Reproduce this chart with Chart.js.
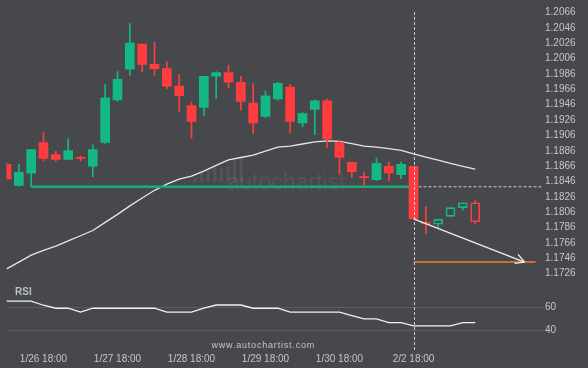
<!DOCTYPE html>
<html>
<head>
<meta charset="utf-8">
<script src="https://cdn.jsdelivr.net/npm/chart.js@4.4.1/dist/chart.umd.min.js"></script>
<style>
  html, body { margin: 0; padding: 0; background: #46484c; }
  #wrap { width: 588px; height: 368px; }
</style>
</head>
<body>
<div id="wrap"><canvas id="fxChart" width="588" height="368"></canvas></div>
<script>
// 4h candles, index 0..38; the ones after signalIndex are the projected (hollow) ones
const opens  = [1.18684, 1.18408, 1.18570, 1.18968, 1.18811, 1.18748, 1.18773, 1.18659, 1.18968, 1.19524,
                1.19922, 1.20249, 1.19986, 1.19931, 1.19702, 1.19448, 1.19426, 1.19833, 1.19880, 1.19753,
                1.19482, 1.19308, 1.19537, 1.19689, 1.19222, 1.19400, 1.19511, 1.18968, 1.18710, 1.18519,
                1.18484, 1.18659, 1.18548, 1.18659, 1.17930, 1.17904, 1.18006, 1.18121, 1.18184];
const highs  = [1.18700, 1.18684, 1.18875, 1.19095, 1.18853, 1.19015, 1.18790, 1.18939, 1.19724, 1.19893,
                1.20516, 1.20249, 1.20275, 1.20020, 1.19855, 1.19490, 1.19829, 1.19893, 1.19978, 1.19829,
                1.19736, 1.19638, 1.19753, 1.19727, 1.19358, 1.19524, 1.19533, 1.18990, 1.18710, 1.18586,
                1.18764, 1.18713, 1.18713, 1.18659, 1.18133, 1.17968, 1.18121, 1.18184, 1.18213];
const lows   = [1.18493, 1.18395, 1.18392, 1.18726, 1.18726, 1.18740, 1.18726, 1.18523, 1.18955, 1.19502,
                1.19846, 1.19884, 1.19846, 1.19668, 1.19375, 1.19024, 1.19320, 1.19540, 1.19680, 1.19393,
                1.19087, 1.19295, 1.19515, 1.19100, 1.19171, 1.19070, 1.18904, 1.18557, 1.18515, 1.18408,
                1.18472, 1.18474, 1.18497, 1.17975, 1.17781, 1.17853, 1.18006, 1.18090, 1.17912];
const closes = [1.18493, 1.18579, 1.18875, 1.18761, 1.18748, 1.18862, 1.18761, 1.18875, 1.19549, 1.19791,
                1.20262, 1.19986, 1.19931, 1.19702, 1.19579, 1.19244, 1.19829, 1.19880, 1.19753, 1.19502,
                1.19222, 1.19575, 1.19740, 1.19244, 1.19346, 1.19511, 1.19015, 1.18773, 1.18586, 1.18510,
                1.18697, 1.18573, 1.18684, 1.17975, 1.17904, 1.17968, 1.18121, 1.18184, 1.17937];

const movingAvg = [1.17323, 1.17411, 1.17502, 1.17565, 1.17620, 1.17688, 1.17754, 1.17822, 1.17928, 1.18033,
                   1.18143, 1.18246, 1.18346, 1.18427, 1.18491, 1.18531, 1.18595, 1.18671, 1.18741, 1.18773,
                   1.18805, 1.18856, 1.18909, 1.18922, 1.18949, 1.18977, 1.18990, 1.18983, 1.18954, 1.18922,
                   1.18907, 1.18888, 1.18866, 1.18820, 1.18778, 1.18738, 1.18696, 1.18659, 1.18621];

const rsiValues = [65.7, 65.7, 65.7, 62.1, 59.5, 59.5, 56.1, 59.5, 59.5, 59.5,
                   59.5, 59.5, 59.5, 56.1, 56.1, 56.1, 59.5, 62.3, 62.3, 62.3,
                   59.5, 59.5, 59.5, 56.1, 56.1, 56.1, 56.1, 56.1, 53.1, 50.2,
                   50.2, 47.0, 47.0, 44.2, 44.2, 44.2, 44.2, 47.0, 47.0];

const tickIndex  = [3, 9, 15, 21, 27, 33];
const tickLabels = ['1/26 18:00', '1/27 18:00', '1/28 18:00', '1/29 18:00', '1/30 18:00', '2/2 18:00'];
const priceTicks = [1.2066, 1.2046, 1.2026, 1.2006, 1.1986, 1.1966, 1.1946, 1.1926, 1.1906,
                    1.1886, 1.1866, 1.1846, 1.1826, 1.1806, 1.1786, 1.1766, 1.1746, 1.1726];
const rsiTicks = [60, 40];

const supportLevel = 1.18392;
const supportStart = 2;
const signalIndex = 33;
const targetLevel = 1.17412;
const arrowEnd = 42;
const targetEnd = 42.9;
const xMax = 43.5;

const GREEN = '#13b884';
const RED = '#ff3d3f';
const TEXT = '#c4c6c9';

const idx = opens.map((_, i) => i);
const isUp = i => closes[i] >= opens[i];
const candleColor = i => isUp(i) ? GREEN : RED;
const projected = i => i > signalIndex;

const bodies = idx.map(i => ({ x: i, y: [opens[i], closes[i]] }));
const upperWicks = idx.map(i => ({ x: i, y: [Math.max(opens[i], closes[i]), highs[i]] }));
const lowerWicks = idx.map(i => ({ x: i, y: [lows[i], Math.min(opens[i], closes[i])] }));

const decorations = {
    id: 'decorations',
    beforeDatasetsDraw(chart) {
        const { ctx, chartArea } = chart;
        ctx.save();
        // faint autochartist watermark
        ctx.fillStyle = 'rgba(255,255,255,0.07)';
        const bx = chartArea.left + 187;
        const barTops = [12, 17, 19, 24, 21, 24, 29, 33];
        barTops.forEach((h, k) => ctx.fillRect(bx + k * 6.6, 190 - h, 3, h - 8));
        ctx.font = '23px "Liberation Sans", Arial, sans-serif';
        ctx.textBaseline = 'alphabetic';
        ctx.fillText('autochartist', chartArea.left + 220, 190);
        ctx.restore();
    },
    afterDatasetsDraw(chart) {
        const { ctx, chartArea, scales } = chart;
        const xs = scales.x, ys = scales.y;
        ctx.save();
        // vertical dashed line at the signal candle
        const sx = Math.round(xs.getPixelForValue(signalIndex)) + 0.5;
        ctx.strokeStyle = 'rgba(225,225,225,0.85)';
        ctx.lineWidth = 1;
        ctx.setLineDash([3, 2]);
        ctx.beginPath();
        ctx.moveTo(sx, chartArea.top + 4);
        ctx.lineTo(sx, chartArea.bottom + 1);
        ctx.stroke();
        ctx.setLineDash([]);

        // arrow head on the projection
        const x1 = xs.getPixelForValue(signalIndex), y1 = ys.getPixelForValue(closes[signalIndex]);
        const x2 = xs.getPixelForValue(arrowEnd), y2 = ys.getPixelForValue(targetLevel);
        const ang = Math.atan2(y2 - y1, x2 - x1);
        ctx.strokeStyle = '#eeeeee';
        ctx.lineWidth = 1.3;
        ctx.beginPath();
        [-0.5, 0.5].forEach(d => {
            ctx.moveTo(x2, y2);
            ctx.lineTo(x2 - 10 * Math.cos(ang + d), y2 - 10 * Math.sin(ang + d));
        });
        ctx.stroke();

        // RSI pane title and site name
        const rs = scales.rsi;
        ctx.fillStyle = '#b9bdc4';
        ctx.font = 'bold 10px "Liberation Sans", Arial, sans-serif';
        ctx.textBaseline = 'middle';
        ctx.fillText('RSI', chartArea.left + 8.5, rs.top + 9);
        ctx.fillStyle = TEXT;
        ctx.font = '9px "Liberation Sans", Arial, sans-serif';
        ctx.letterSpacing = '0.8px';
        ctx.fillText('www.autochartist.com', chartArea.left + 205, rs.bottom - 3);
        ctx.restore();
    }
};

const ctx = document.getElementById('fxChart').getContext('2d');
new Chart(ctx, {
    data: {
        datasets: [
            {
                type: 'line', data: [{ x: signalIndex, y: closes[signalIndex] }, { x: arrowEnd, y: targetLevel }],
                borderColor: '#eeeeee', borderWidth: 1.3, pointRadius: 0, order: 0, clip: 0
            },
            {
                type: 'line', data: [{ x: signalIndex, y: targetLevel }, { x: targetEnd, y: targetLevel }],
                borderColor: '#ff7a30', borderWidth: 1.5, pointRadius: 0, order: 0, clip: 0
            },
            {
                type: 'line', yAxisID: 'rsi', data: idx.map(i => ({ x: i, y: rsiValues[i] })),
                borderColor: '#f2f2f2', borderWidth: 1.3, pointRadius: 0, order: 0, clip: 0
            },
            {
                type: 'bar', data: bodies, grouped: false, barThickness: 9, minBarLength: 1,
                backgroundColor: idx.map(i => projected(i) ? 'rgba(0,0,0,0)' : candleColor(i)),
                borderColor: idx.map(i => candleColor(i)),
                borderWidth: idx.map(i => projected(i) ? 1 : 0),
                borderSkipped: false, order: 1, clip: 0
            },
            {
                type: 'bar', data: upperWicks, grouped: false, barThickness: 1,
                backgroundColor: idx.map(i => candleColor(i)), order: 2, clip: 0
            },
            {
                type: 'bar', data: lowerWicks, grouped: false, barThickness: 1,
                backgroundColor: idx.map(i => candleColor(i)), order: 2, clip: 0
            },
            {
                type: 'line', data: [{ x: supportStart, y: supportLevel }, { x: signalIndex, y: supportLevel }],
                borderColor: '#1ea97a', borderWidth: 2.5, pointRadius: 0, order: 3, clip: 0
            },
            {
                type: 'line', data: [{ x: signalIndex, y: supportLevel }, { x: xMax, y: supportLevel }],
                borderColor: 'rgba(225,225,225,0.85)', borderWidth: 1, borderDash: [3, 2],
                pointRadius: 0, order: 3, clip: 0
            },
            {
                type: 'line', data: idx.map(i => ({ x: i, y: movingAvg[i] })),
                borderColor: '#e6e6e6', borderWidth: 1.3, pointRadius: 0, order: 4, clip: 0
            }
        ]
    },
    options: {
        responsive: false,
        animation: false,
        events: [],
        layout: { padding: { left: 6.5, top: 0, right: 0, bottom: 0 } },
        plugins: { legend: { display: false }, tooltip: { enabled: false } },
        scales: {
            x: {
                type: 'linear', min: 0, max: xMax, offset: false,
                grid: { display: false, drawTicks: false, offset: false },
                border: { display: false },
                afterBuildTicks: s => { s.ticks = tickIndex.map(v => ({ value: v })); },
                afterFit: s => { s.height = 19; },
                ticks: {
                    autoSkip: false, maxRotation: 0, padding: 4, color: TEXT,
                    font: { family: '"Liberation Sans", Arial, sans-serif', size: 10 },
                    callback: v => tickLabels[tickIndex.indexOf(v)]
                }
            },
            y: {
                type: 'linear', position: 'right', stack: 'panes', stackWeight: 282,
                min: 1.171319, max: 1.207198,
                grid: { display: false, drawTicks: false },
                border: { display: false },
                afterBuildTicks: s => { s.ticks = priceTicks.map(v => ({ value: v })); },
                afterFit: s => { s.width = 45; },
                ticks: {
                    autoSkip: false, padding: 2, color: TEXT,
                    font: { family: '"Liberation Sans", Arial, sans-serif', size: 10 },
                    callback: v => v.toFixed(4)
                }
            },
            rsi: {
                type: 'linear', position: 'right', stack: 'panes', stackWeight: 67,
                min: 24.15, max: 80.93,
                grid: { color: '#5b5d61', drawTicks: false },
                border: { display: false },
                afterBuildTicks: s => { s.ticks = rsiTicks.map(v => ({ value: v })); },
                afterFit: s => { s.width = 45; },
                ticks: {
                    autoSkip: false, padding: 2, color: TEXT,
                    font: { family: '"Liberation Sans", Arial, sans-serif', size: 10 }
                }
            }
        }
    },
    plugins: [decorations]
});
</script>
</body>
</html>
